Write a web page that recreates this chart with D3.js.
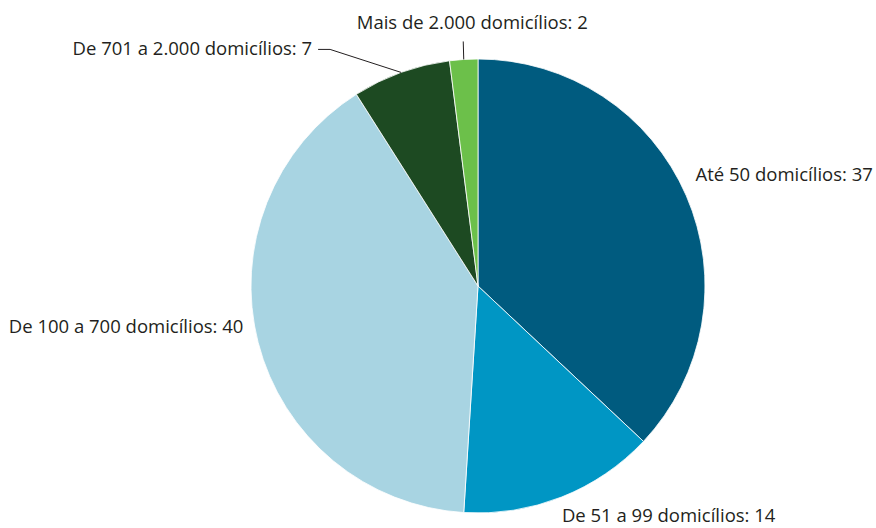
<!DOCTYPE html>
<html lang="pt">
<head>
    <meta charset="UTF-8">
    <title>Domicílios</title>
    <script src="https://d3js.org/d3.v7.min.js"></script>
    <style>
        body { margin: 0; background: #fff; }
        .pie-label {
            font-family: "Open Sans", "Noto Sans", sans-serif;
            font-size: 18.5px;
            fill: #231f20;
        }
        .leader {
            fill: none;
            stroke: #231f20;
            stroke-width: 1;
        }
    </style>
</head>
<body>
    <svg id="chart"></svg>

    <script>
        // Data
        const categories = [
            "Até 50 domicílios",
            "De 51 a 99 domicílios",
            "De 100 a 700 domicílios",
            "De 701 a 2.000 domicílios",
            "Mais de 2.000 domicílios"
        ];
        const values = [37, 14, 40, 7, 2];
        const colors = ["#005b7f", "#0096c4", "#a8d4e2", "#1d4a22", "#6cc04a"];

        const width = 876;
        const height = 528;
        const cx = 478, cy = 286, radius = 227;

        const svg = d3.select("#chart")
            .attr("width", width)
            .attr("height", height);

        const g = svg.append("g")
            .attr("transform", `translate(${cx},${cy})`);

        const pie = d3.pie().value(d => d).sort(null);
        const arcs = pie(values);

        const arc = d3.arc().innerRadius(0).outerRadius(radius);

        g.selectAll("path.slice")
            .data(arcs)
            .enter()
            .append("path")
            .attr("class", "slice")
            .attr("d", arc)
            .attr("fill", (d, i) => colors[i])
            .attr("stroke", "#fff")
            .attr("stroke-width", 0.8);

        // point on a circle of radius r at the slice's mid angle
        function polar(d, r) {
            const a = (d.startAngle + d.endAngle) / 2;
            return [r * Math.sin(a), -r * Math.cos(a)];
        }

        // label placement per slice
        const labelStyle = [
            { r: radius + 10, dx: 0, dy: -11, anchor: "start" },
            { r: radius + 20, dx: -7, dy: 6, anchor: "start" },
            { r: radius + 10, dx: -5, dy: -12, anchor: "end" },
            { r: radius, leader: "elbow", anchor: "end" },
            { r: radius, leader: "vertical", anchor: "middle" }
        ];

        arcs.forEach((d, i) => {
            const s = labelStyle[i];
            const text = `${categories[i]}: ${values[i]}`;
            let tx, ty;
            if (s.leader === "elbow") {
                const p0 = polar(d, radius);
                const p1 = [p0[0] - 71, p0[1] - 23];
                const p2 = [p1[0] - 12, p1[1]];
                g.append("path")
                    .attr("class", "leader")
                    .attr("d", d3.line()([p0, p1, p2]));
                tx = p2[0] - 6;
                ty = p2[1] + 6;
            } else if (s.leader === "vertical") {
                const p0 = polar(d, radius);
                const p1 = [p0[0] - 0.5, p0[1] - 18];
                g.append("path")
                    .attr("class", "leader")
                    .attr("d", d3.line()([p0, p1]));
                tx = p1[0] + 9;
                ty = p1[1] - 12;
            } else {
                const p = polar(d, s.r);
                tx = p[0] + s.dx;
                ty = p[1] + s.dy;
            }
            g.append("text")
                .attr("class", "pie-label")
                .attr("x", tx)
                .attr("y", ty)
                .attr("text-anchor", s.anchor)
                .text(text);
        });
    </script>
</body>
</html>
